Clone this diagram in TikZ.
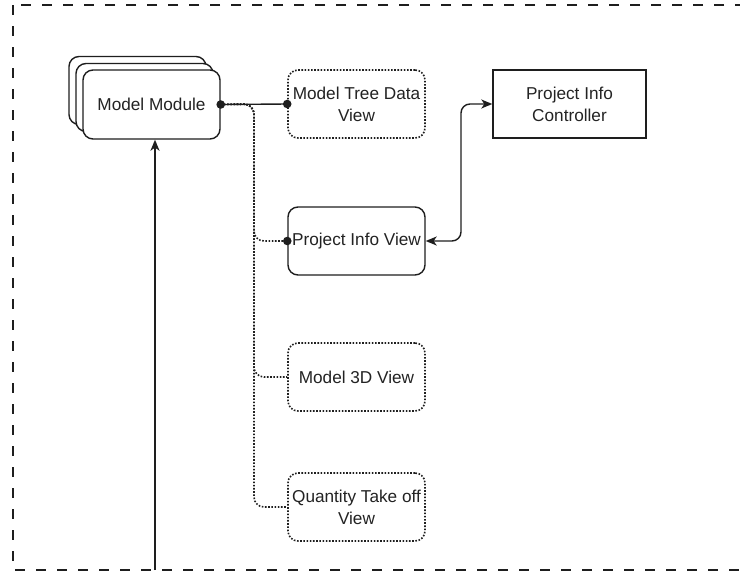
\documentclass[tikz,border=0pt]{standalone}
\usepackage{fontspec}
\setmainfont{Liberation Sans}
\usetikzlibrary{arrows.meta}
\definecolor{ink}{RGB}{30,30,30}
\definecolor{txt}{RGB}{35,35,35}
\begin{document}
\begin{tikzpicture}[x=1pt,y=-1pt,
  every node/.style={font=\fontsize{17.2}{22}\selectfont, text=txt, align=center, inner sep=0pt},
  box/.style={draw=ink, line width=1.4pt, minimum width=137pt, minimum height=68pt},
  roundbox/.style={box, rounded corners=10pt, fill=white},
  dotbox/.style={roundbox, line width=1.6pt, dash pattern=on 1.6pt off 1.6pt},
  frameline/.style={draw=ink, line width=1.4pt, dash pattern=on 10pt off 11pt},
  link/.style={draw=ink, line width=1.4pt},
  dotlink/.style={link, line width=1.6pt, dash pattern=on 1.6pt off 1.6pt, rounded corners=10pt},
  tip/.style={-{Stealth[length=11pt,width=9pt,inset=3pt]}},
  bitip/.style={{Stealth[length=11pt,width=9pt,inset=3pt]}-{Stealth[length=11pt,width=9pt,inset=3pt]}},
  joint/.style={fill=ink}
]
\useasboundingbox (0,0) rectangle (740,581);
\clip (0,0) rectangle (740,581);

% outer dashed frame (open to the right)
\draw[frameline] (13,5) rectangle (780,570);

% stacked module boxes
\node[roundbox] (mmback) at (137.5,90.5) {};
\node[roundbox] (mmmid) at (144.5,97.5) {};
\node[roundbox, minimum height=69pt] (mm) at (151.5,104.5) {Model Module};

% views
\node[dotbox] (tree) at (356.5,104) {Model Tree Data\\View};
\node[roundbox] (piv) at (356.5,241) {Project Info View};
\node[dotbox] (m3d) at (356.5,377) {Model 3D View};
\node[dotbox] (qto) at (356.5,507) {Quantity Take off\\View};

% controller
\node[box, minimum width=153pt] (pic) at (569.5,104) {Project Info\\Controller};

% module to views
\coordinate (trunk) at (254,104);
\draw[dotlink] (mm.east) -- (trunk) |- (piv.west);
\draw[dotlink] (mm.east) -- (trunk) |- (m3d.west);
\draw[dotlink] (mm.east) -- (trunk) |- (qto.west);
\draw[link] (mm.east) -- (tree.west);
\fill[joint] (mm.east) circle (4.3pt);
\fill[joint] (tree.west) circle (4.3pt);
\fill[joint] (piv.west) circle (4.3pt);

% view <-> controller
\coordinate (bend) at (461,0);
\draw[link, bitip, rounded corners=9pt] (piv.east) -- (bend |- piv.east) -- (bend |- pic.west) -- (pic.west);

% incoming arrow from the frame bottom
\coordinate (src) at (155,570);
\draw[link, tip] (src) -- (src |- mm.south);
\end{tikzpicture}
\end{document}
